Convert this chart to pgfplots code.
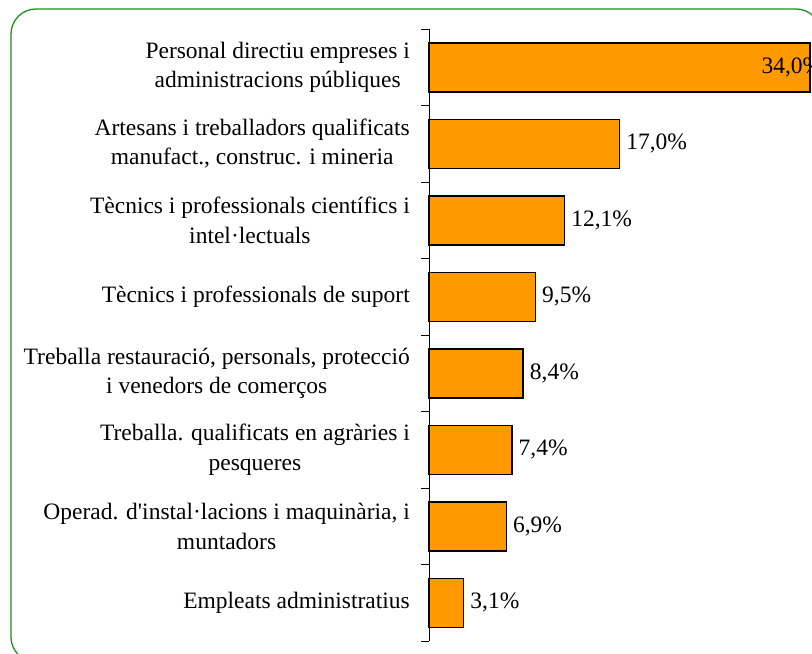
\documentclass[border=0pt]{standalone}
\usepackage{fontspec}
\setmainfont{Liberation Serif}[Ligatures=TeXOff]
\usepackage{pgfplots}
\pgfplotsset{compat=1.18}
\definecolor{barorange}{HTML}{FF9900}
\definecolor{framegreen}{HTML}{1E8C1E}

\begin{document}
\begin{tikzpicture}
\useasboundingbox (0,0) rectangle (812bp,654bp);
\clip (0,0) rectangle (812bp,654bp);
\draw[framegreen, line width=1.3bp, rounded corners=25bp] (11bp,-8bp) rectangle (821bp,645bp);
\begin{axis}[
    at={(429bp,13bp)}, anchor=south west,
    scale only axis, width=381bp, height=612bp,
    xmin=0, xmax=34, ymin=-0.5, ymax=7.5, y dir=reverse,
    axis x line=none, axis y line=left,
    axis line style={-, black, line width=0.8bp},
    ytick={0,...,7},
    yticklabels={
        {Personal directiu empreses i\\administracions públiques},
        {Artesans i treballadors qualificats\\manufact., construc. i mineria},
        {Tècnics i professionals científics i\\intel·lectuals},
        {Tècnics i professionals de suport},
        {Treballa restauració, personals, protecció\\i venedors de comerços},
        {Treballa. qualificats en agràries i\\pesqueres},
        {Operad. d'instal·lacions i maquinària, i\\muntadors},
        {Empleats administratius}},
    major tick length=0pt,
    minor ytick={-0.5,0.5,...,7.5},
    minor tick length=8bp, tick align=outside,
    tick style={black, line width=0.8bp},
    yticklabel style={align=center, font=\fontsize{23.5bp}{29.5bp}\selectfont,
        anchor=east, inner sep=0pt, xshift=-19bp},
    xbar, bar width=49bp, bar shift=0pt,
    clip=false,
    point meta=x,
    nodes near coords={\pgfmathprintnumber{\pgfplotspointmeta}\%},
    every node near coord/.append style={font=\fontsize{23.5bp}{28bp}\selectfont,
        anchor=west, inner sep=0pt, xshift=6bp, black},
    /pgf/number format/.cd, fixed, fixed zerofill, precision=1, use comma,
    assume math mode=true,
]
\addplot[fill=barorange, draw=black, line width=1.5bp] coordinates {
    (17.0,1) (12.1,2) (9.5,3) (8.4,4) (7.4,5) (6.9,6) (3.1,7)
};
\addplot[fill=barorange, draw=black, line width=1.5bp,
    every node near coord/.append style={anchor=east, xshift=7bp}] coordinates {
    (34.0,0)
};
\end{axis}
\end{tikzpicture}
\end{document}
